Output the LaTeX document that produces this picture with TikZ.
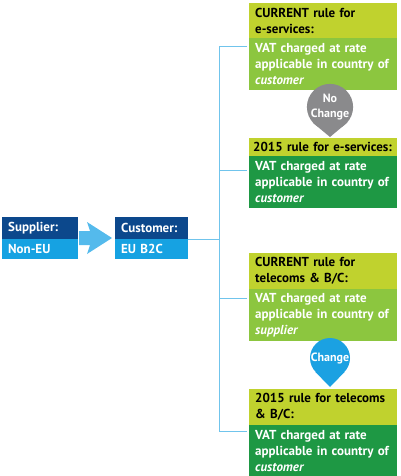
\documentclass[tikz,border=0pt]{standalone}
\usepackage{fontspec}
\setmainfont{PT Sans}
\usetikzlibrary{positioning,calc}
\definecolor{navyblue}{RGB}{12,72,140}
\definecolor{skyblue}{RGB}{22,162,226}
\definecolor{flowblue}{RGB}{84,186,236}
\definecolor{trunkblue}{RGB}{112,196,236}
\definecolor{headgreen}{RGB}{192,210,46}
\definecolor{oldgreen}{RGB}{140,198,63}
\definecolor{newgreen}{RGB}{30,152,68}
\definecolor{pingrey}{RGB}{138,138,140}
\definecolor{pinblue}{RGB}{27,161,226}

\begin{document}
\begin{tikzpicture}[x=1pt,y=-1pt,
    box/.style={anchor=north west, inner xsep=6pt, inner ysep=0pt, align=left,
        font=\fontsize{13}{16}\selectfont\bfseries},
    rulehead/.style={box, text width=136pt, fill=headgreen, text=black},
    ruleold/.style={box, text width=136pt, fill=oldgreen, text=white, minimum height=52pt},
    rulenew/.style={box, text width=136pt, fill=newgreen, text=white, minimum height=52pt},
    partyhead/.style={box, fill=navyblue, text=white, minimum height=22pt},
    partyval/.style={box, fill=skyblue, text=white, minimum height=20pt},
    pinhead/.style={circle, inner sep=0pt, minimum size=40pt, align=center, text=white,
        font=\fontsize{12}{15}\selectfont\bfseries},
    trunk/.style={draw=trunkblue, line width=1pt}]
  \useasboundingbox (0,0) rectangle (400,476);

  \node[partyhead, text width=64pt] (suphead) at (2,217) {Supplier:};
  \node[partyval, text width=64pt] (supval) at (2,239) {Non-EU};
  \node[partyhead, text width=61pt] (custhead) at (115,217) {Customer:};
  \node[partyval, text width=61pt] (custval) at (115,239) {EU B2C};

  \fill[flowblue] (79,231) -- (90,231) -- (87,222) -- (112,238) -- (87,254) -- (90,245) -- (79,245) -- cycle;

  \node[rulehead, minimum height=35pt] (head1) at (249,3) {CURRENT rule for\\e-services:};
  \node[ruleold] (body1) at (249,38) {VAT charged at rate\\applicable in country of\\\textit{customer}};
  \node[rulehead, minimum height=18pt, inner xsep=4pt, text width=140pt] (head2) at (249,138) {2015 rule for e-services:};
  \node[rulenew] (body2) at (249,156) {VAT charged at rate\\applicable in country of\\\textit{customer}};
  \node[rulehead, minimum height=36pt] (head3) at (249,253) {CURRENT rule for\\telecoms \& B/C:};
  \node[ruleold] (body3) at (249,289) {VAT charged at rate\\applicable in country of\\\textit{supplier}};
  \node[rulehead, minimum height=36pt] (head4) at (249,389) {2015 rule for telecoms\\\& B/C:};
  \node[rulenew, minimum height=51pt] (body4) at (249,425) {VAT charged at rate\\applicable in country of\\\textit{customer}};

  \coordinate (t1) at (219,47);
  \coordinate (t2) at (219,170);
  \coordinate (t3) at (219,298);
  \coordinate (t4) at (219,431);
  \draw[trunk, shorten <=2pt, shorten >=2pt] (body1.west |- t1) -- (t1) -- (t4) -- (body4.west |- t4);
  \draw[trunk, shorten >=2pt] (t2) -- (body2.west |- t2);
  \draw[trunk, shorten >=2pt] (t3) -- (body3.west |- t3);
  \draw[trunk] (custhead.south east) -- (custhead.south east -| t1);

  \node[pinhead, fill=pingrey] (nochange) at (330,107) {No\\Change};
  \coordinate (nochangetip) at (330,137);
  \fill[pingrey] (nochangetip) -- (nochange.-41.8) -- (nochange.-138.2) -- cycle;
  \node[pinhead, fill=pinblue] (change) at (330,358) {Change};
  \coordinate (changetip) at (330,387);
  \fill[pinblue] (changetip) -- (change.-43.6) -- (change.-136.4) -- cycle;
\end{tikzpicture}
\end{document}
